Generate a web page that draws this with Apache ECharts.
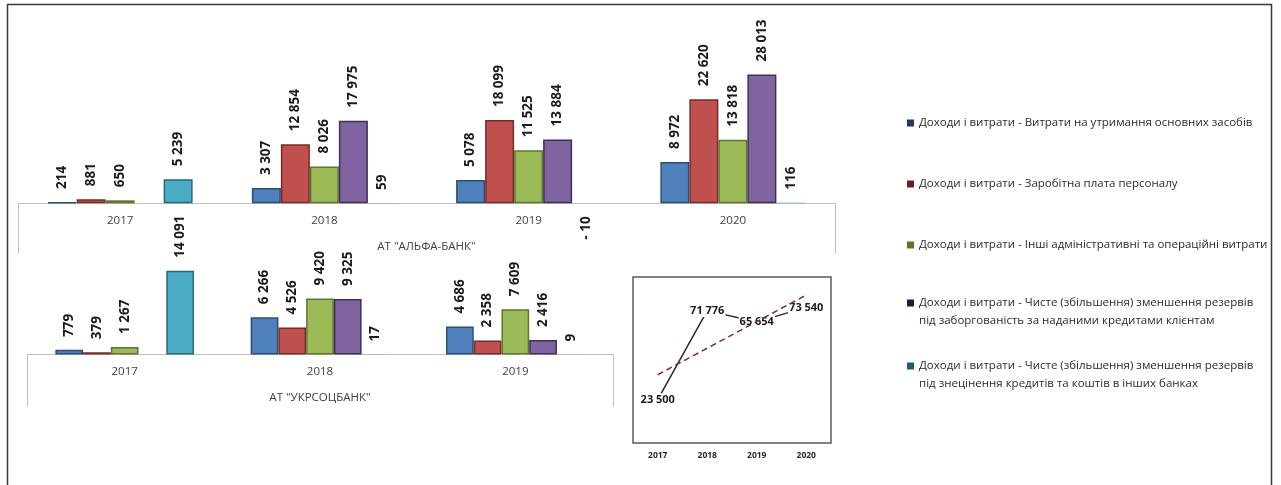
<!DOCTYPE html>
<html>
<head>
<meta charset="utf-8">
<script src="https://cdn.jsdelivr.net/npm/echarts@6/dist/echarts.min.js"></script>
<style>
  html, body { margin: 0; padding: 0; background: #fff; }
  #chart { width: 1281px; height: 485px; }
</style>
</head>
<body>
<div id="chart"></div>
<script>
// Categories
const alfaYears = ['2017', '2018', '2019', '2020'];
const ukrYears = ['2017', '2018', '2019'];
const totalYears = ['2017', '2018', '2019', '2020'];

// АТ "АЛЬФА-БАНК"
const alfaFixedAssets = [214, 3307, 5078, 8972];
const alfaSalary = [881, 12854, 18099, 22620];
const alfaOtherCosts = [650, 8026, 11525, 13818];
const alfaLoanReserves = [null, 17975, 13884, 28013];
const alfaBankReserves = [5239, 59, -10, 116];

// АТ "УКРСОЦБАНК"
const ukrFixedAssets = [779, 6266, 4686];
const ukrSalary = [379, 4526, 2358];
const ukrOtherCosts = [1267, 9420, 7609];
const ukrLoanReserves = [null, 9325, 2416];
const ukrBankReserves = [14091, 17, 9];

// Totals for the small line chart
const totals = [23500, 71776, 65654, 73540];

// Series names (legend)
const seriesNames = [
  'Доходи і витрати - Витрати на утримання основних засобів',
  'Доходи і витрати - Заробітна плата персоналу',
  'Доходи і витрати - Інші адміністративні та операційні витрати',
  'Доходи і витрати - Чисте (збільшення) зменшення резервів\nпід заборгованість за наданими кредитами клієнтам',
  'Доходи і витрати - Чисте (збільшення) зменшення резервів\nпід знецінення кредитів та коштів в інших банках'
];

const FONT = '"Open Sans", "Noto Sans", sans-serif';
const fills = ['#4f81bd', '#c0504d', '#9bbb59', '#8064a2', '#4bacc6'];
const edges = ['#2c4d75', '#772c2a', '#5f7530', '#3f3151', '#276a7c'];
const swatches = ['#1f3864', '#6b1f1f', '#55772a', '#1e1a42', '#1f6070'];

function fmt(v) {
  const s = String(Math.abs(v)).replace(/\B(?=(\d{3})+(?!\d))/g, ' ');
  return v < 0 ? '- ' + s : s;
}

// Bar data items: negative values carry their label below the axis,
// sub-pixel bars get no outline
function toItems(arr) {
  return arr.map(v => {
    if (v === null) return v;
    const item = { value: v };
    if (v < 0) item.label = { position: 'bottom', align: 'right' };
    if (Math.abs(v) < 150) item.itemStyle = { borderWidth: 0 };
    return item;
  });
}

function barSeries(i, data, axisIdx) {
  return {
    type: 'bar',
    name: seriesNames[i],
    xAxisIndex: axisIdx,
    yAxisIndex: axisIdx,
    data: toItems(data),
    barGap: '0%',
    barCategoryGap: '29%',
    clip: false,
    itemStyle: { color: fills[i], borderColor: edges[i], borderWidth: 1.5 },
    label: {
      show: true,
      position: 'top',
      distance: 13,
      rotate: 90,
      align: 'left',
      verticalAlign: 'middle',
      fontFamily: FONT,
      fontWeight: 'bold',
      fontSize: 13.5,
      color: '#1a1a1a',
      formatter: p => fmt(p.value)
    }
  };
}

// Least-squares trend over the totals
function linearTrend(values) {
  const n = values.length;
  const xs = values.map((_, i) => i + 1);
  const mx = xs.reduce((a, b) => a + b, 0) / n;
  const my = values.reduce((a, b) => a + b, 0) / n;
  let sxy = 0, sxx = 0;
  for (let i = 0; i < n; i++) {
    sxy += (xs[i] - mx) * (values[i] - my);
    sxx += (xs[i] - mx) * (xs[i] - mx);
  }
  const k = sxy / sxx;
  return xs.map(x => my + k * (x - mx));
}

function categoryAxis(gridIndex, data, name, tickLen) {
  return {
    type: 'category',
    gridIndex: gridIndex,
    data: data,
    axisLine: { lineStyle: { color: '#bfbfbf', width: 1 } },
    axisTick: {
      show: true,
      interval: (idx) => idx === 0,
      length: tickLen,
      lineStyle: { color: '#bfbfbf', width: 1 }
    },
    axisLabel: { fontFamily: FONT, fontSize: 11.5, color: '#404040', margin: 11 },
    name: name,
    nameLocation: 'middle',
    nameGap: 37,
    nameTextStyle: { fontFamily: FONT, fontSize: 11.5, color: '#404040' }
  };
}

function legendItem(i, top, multiline) {
  return {
    show: true,
    orient: 'vertical',
    left: 907,
    top: top,
    padding: 0,
    itemWidth: 7,
    itemHeight: multiline ? 25 : 7,
    icon: multiline ? 'path://M0,0L7,0L7,7L0,7Z M0,25' : 'rect',
    selectedMode: false,
    data: [{ name: seriesNames[i], itemStyle: { color: swatches[i], borderWidth: 0 } }],
    textStyle: {
      fontFamily: FONT, fontSize: 11.5, color: '#2b2b2b',
      lineHeight: multiline ? 18 : 17
    }
  };
}

const chart = echarts.init(document.getElementById('chart'), null, { renderer: 'canvas' });

chart.setOption({
  backgroundColor: '#ffffff',
  animation: false,
  textStyle: { fontFamily: FONT },
  graphic: [{
    type: 'rect',
    shape: { x: 7.5, y: 4.5, width: 1264, height: 520 },
    style: { fill: 'none', stroke: '#3a3a3a', lineWidth: 1.5 },
    silent: true
  }],
  legend: [
    legendItem(0, 114.5, false),
    legendItem(1, 175.5, false),
    legendItem(2, 236.5, false),
    legendItem(3, 294, true),
    legendItem(4, 357, true)
  ],
  grid: [
    { left: 18, right: 446, top: 19.4, bottom: 281.7 },
    { left: 27, right: 668, top: 176, bottom: 130.5 },
    { left: 633, top: 277, width: 198, height: 166, show: true,
      borderColor: '#595959', borderWidth: 1.5, backgroundColor: 'transparent' }
  ],
  xAxis: [
    categoryAxis(0, alfaYears, 'АТ "АЛЬФА-БАНК"', 50),
    categoryAxis(1, ukrYears, 'АТ "УКРСОЦБАНК"', 52),
    {
      type: 'category', gridIndex: 2, data: totalYears,
      axisLine: { show: false }, axisTick: { show: false },
      axisLabel: { fontFamily: FONT, fontSize: 8.5, fontWeight: 'bold', color: '#262626', margin: 8 }
    }
  ],
  yAxis: [
    { type: 'value', gridIndex: 0, min: 0, max: 40000, show: false },
    { type: 'value', gridIndex: 1, min: 0, max: 30000, show: false },
    { type: 'value', gridIndex: 2, min: 0, max: 90000, show: false }
  ],
  series: [
    barSeries(0, alfaFixedAssets, 0),
    barSeries(1, alfaSalary, 0),
    barSeries(2, alfaOtherCosts, 0),
    barSeries(3, alfaLoanReserves, 0),
    barSeries(4, alfaBankReserves, 0),
    barSeries(0, ukrFixedAssets, 1),
    barSeries(1, ukrSalary, 1),
    barSeries(2, ukrOtherCosts, 1),
    barSeries(3, ukrLoanReserves, 1),
    barSeries(4, ukrBankReserves, 1),
    {
      type: 'line',
      name: 'Разом',
      xAxisIndex: 2, yAxisIndex: 2,
      data: totals,
      z: 2,
      symbol: 'circle',
      symbolSize: 1,
      itemStyle: { color: 'transparent' },
      lineStyle: { color: '#1f2a4a', width: 1.5 },
      label: {
        show: true,
        position: 'inside',
        fontFamily: FONT, fontSize: 11, fontWeight: 'bold', color: '#1a1a1a',
        backgroundColor: '#ffffff',
        padding: [1, 1],
        formatter: p => fmt(p.value)
      }
    },
    {
      type: 'line',
      name: 'Тренд',
      xAxisIndex: 2, yAxisIndex: 2,
      data: linearTrend(totals),
      z: 3,
      symbol: 'none',
      silent: true,
      lineStyle: { color: '#7f2e2e', width: 1.5, type: [6, 4] }
    }
  ]
});
</script>
</body>
</html>
